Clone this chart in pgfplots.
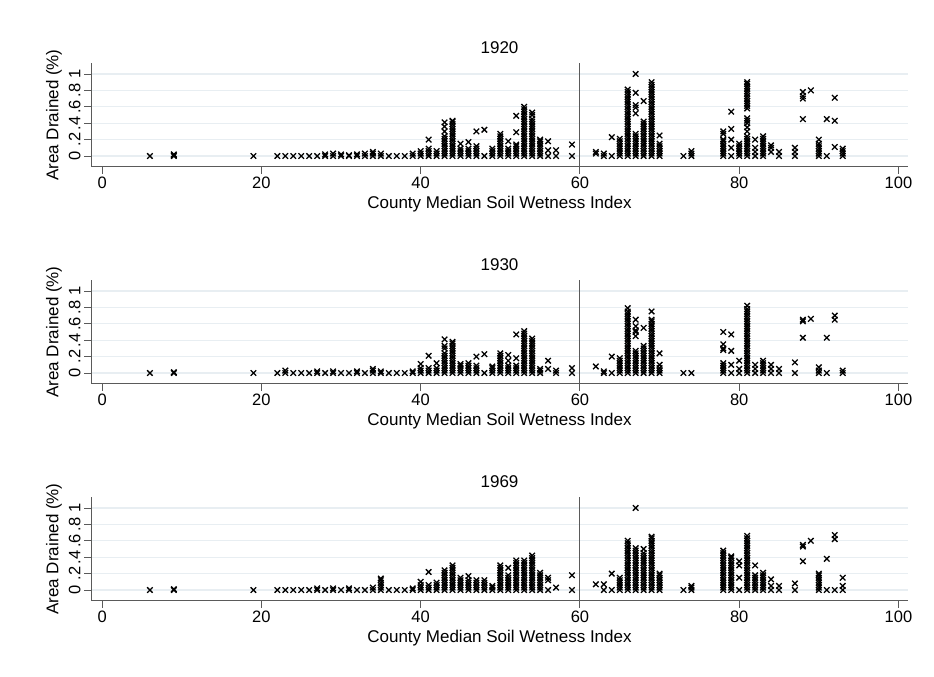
\documentclass[border=0pt]{standalone}
\usepackage{pgfplots}
\pgfplotsset{compat=1.18}
\usepackage{fontspec}
\setmainfont{Liberation Sans}
\definecolor{gridc}{RGB}{232,238,242}
\definecolor{axc}{RGB}{90,90,90}
\pgfplotsset{panel/.style={
  scale only axis, width=817pt, height=103.4pt,
  xmin=-1.4, xmax=101.2, ymin=-0.13, ymax=1.13,
  axis x line*=bottom, axis y line*=left,
  axis line style={draw=axc, line width=0.9pt, -},
  xtick={0,20,40,60,80,100}, ytick={0,0.2,0.4,0.6,0.8,1},
  yticklabels={0,.2,.4,.6,.8,1},
  tick align=outside, major tick length=7pt,
  tick style={draw=axc, line width=0.9pt},
  ymajorgrids, grid style={draw=gridc, line width=1.1pt},
  yticklabel style={rotate=90, anchor=south},
  /pgf/number format/assume math mode=true,
  every tick label/.append style={font=\fontsize{16.5}{18}\selectfont},
  label style={font=\fontsize{17}{20}\selectfont},
  title style={font=\fontsize{17}{20}\selectfont},
  xlabel={County Median Soil Wetness Index},
  ylabel={Area Drained (\%)},
  clip=false,
}, dots/.style={only marks, mark=x, mark size=3.9pt, mark options={black, line width=1.3pt}}}
\begin{document}
\begin{tikzpicture}
\path (0pt,0pt) rectangle (934pt,677pt);
% ---------------- 1920
\begin{axis}[panel, at={(91pt,510.3pt)}, anchor=south west, title={1920}]
\addplot[axc, line width=0.9pt, no marks, forget plot] coordinates {(60,-0.13) (60,1.13)};
\addplot[dots] coordinates {
(6,0)(9,0)(9,.01)(9,.02)(19,0)
(22,0)(23,0)(24,0)(25,0)(26,0)(27,0)(28,0)(28,.02)(29,0)(29,.03)(30,0)(30,.02)(31,0)(31,.01)(32,0)(32,.02)(33,0)(33,.03)(34,0)(34,.03)(34,.05)(35,0)(35,.03)(36,0)(37,0)(38,0)(39,0)(39,.03)
(40,0)(40,.03)(40,.06)
(41,0)(41,.03)(41,.06)(41,.09)(41,.2)
(42,0)(42,.03)(42,.06)
(43,0)(43,.03)(43,.06)(43,.09)(43,.12)(43,.15)(43,.18)(43,.21)(43,.24)(43,.3)(43,.36)(43,.41)
(44,0)(44,.03)(44,.06)(44,.09)(44,.12)(44,.15)(44,.18)(44,.21)(44,.24)(44,.27)(44,.3)(44,.33)(44,.36)(44,.39)(44,.42)(44,.43)
(45,0)(45,.03)(45,.06)(45,.09)(45,.15)
(46,0)(46,.03)(46,.06)(46,.09)(46,.17)
(47,0)(47,.03)(47,.06)(47,.09)(47,.12)(47,.3)
(48,0)(48,.32)
(49,0)(49,.03)(49,.06)(49,.09)
(50,0)(50,.03)(50,.06)(50,.09)(50,.12)(50,.15)(50,.18)(50,.21)(50,.24)(50,.27)
(51,0)(51,.03)(51,.06)(51,.09)(51,.18)
(52,0)(52,.03)(52,.06)(52,.09)(52,.12)(52,.14)(52,.29)(52,.49)
(53,0)(53,.03)(53,.06)(53,.09)(53,.12)(53,.15)(53,.18)(53,.21)(53,.24)(53,.27)(53,.3)(53,.33)(53,.36)(53,.39)(53,.42)(53,.45)(53,.48)(53,.51)(53,.54)(53,.57)(53,.6)
(54,0)(54,.03)(54,.06)(54,.09)(54,.12)(54,.15)(54,.18)(54,.21)(54,.24)(54,.27)(54,.3)(54,.33)(54,.36)(54,.39)(54,.42)(54,.45)(54,.5)(54,.53)
(55,0)(55,.03)(55,.06)(55,.09)(55,.12)(55,.15)(55,.18)(55,.2)
(56,0)(56,.07)(56,.18)
(57,0)(57,.07)
(59,0)(59,.14)
(62,.03)(62,.05)(63,0)(63,.03)(64,0)(64,.23)
(65,0)(65,.03)(65,.06)(65,.09)(65,.12)(65,.15)(65,.18)(65,.21)
(66,0)(66,.03)(66,.06)(66,.09)(66,.12)(66,.15)(66,.18)(66,.21)(66,.24)(66,.27)(66,.3)(66,.33)(66,.36)(66,.39)(66,.42)(66,.45)(66,.48)(66,.51)(66,.54)(66,.57)(66,.6)(66,.63)(66,.66)(66,.69)(66,.72)(66,.75)(66,.78)(66,.81)
(67,0)(67,.03)(67,.06)(67,.09)(67,.12)(67,.15)(67,.18)(67,.21)(67,.24)(67,.27)(67,.52)(67,.59)(67,.62)(67,.77)(67,1)
(68,0)(68,.03)(68,.06)(68,.09)(68,.12)(68,.15)(68,.18)(68,.21)(68,.24)(68,.27)(68,.3)(68,.33)(68,.36)(68,.39)(68,.42)(68,.67)
(69,0)(69,.03)(69,.06)(69,.09)(69,.12)(69,.15)(69,.18)(69,.21)(69,.24)(69,.27)(69,.3)(69,.33)(69,.36)(69,.39)(69,.42)(69,.45)(69,.48)(69,.51)(69,.54)(69,.57)(69,.6)(69,.63)(69,.66)(69,.69)(69,.72)(69,.75)(69,.78)(69,.81)(69,.84)(69,.87)(69,.9)
(70,0)(70,.03)(70,.06)(70,.09)(70,.12)(70,.15)(70,.25)
(73,0)(74,0)(74,.03)(74,.06)
(78,0)(78,.03)(78,.06)(78,.09)(78,.12)(78,.15)(78,.18)(78,.2)(78,.27)(78,.3)
(79,0)(79,.1)(79,.2)(79,.33)(79,.54)
(80,0)(80,.03)(80,.06)(80,.09)(80,.12)(80,.15)
(81,0)(81,.03)(81,.06)(81,.09)(81,.12)(81,.15)(81,.18)(81,.21)(81,.24)(81,.3)(81,.35)(81,.4)(81,.43)(81,.46)(81,.58)(81,.61)(81,.64)(81,.67)(81,.7)(81,.73)(81,.76)(81,.79)(81,.82)(81,.85)(81,.88)(81,.9)
(82,0)(82,.05)(82,.1)(82,.2)
(83,0)(83,.03)(83,.06)(83,.09)(83,.12)(83,.15)(83,.18)(83,.21)(83,.24)
(84,.05)(84,.1)(84,.13)
(85,0)(85,.05)
(87,0)(87,.05)(87,.1)
(88,.45)(88,.7)(88,.73)(88,.78)
(89,.8)
(90,0)(90,.03)(90,.06)(90,.09)(90,.12)(90,.15)(90,.2)
(91,0)(91,.45)
(92,.11)(92,.43)(92,.71)
(93,0)(93,.03)(93,.06)(93,.09)
};
\end{axis}
% ---------------- 1930
\begin{axis}[panel, at={(91pt,293.3pt)}, anchor=south west, title={1930}]
\addplot[axc, line width=0.9pt, no marks, forget plot] coordinates {(60,-0.13) (60,1.13)};
\addplot[dots] coordinates {
(6,0)(9,0)(9,.01)(19,0)
(22,0)(23,0)(23,.03)(24,0)(25,0)(26,0)(27,0)(27,.02)(28,0)(29,0)(29,.02)(30,0)(31,0)(32,0)(32,.02)(33,0)(34,0)(34,.03)(34,.05)(35,0)(35,.02)(36,0)(37,0)(38,0)(39,0)(39,.02)
(40,0)(40,.03)(40,.06)(40,.11)
(41,0)(41,.03)(41,.06)(41,.21)
(42,0)(42,.03)(42,.06)(42,.12)
(43,0)(43,.03)(43,.06)(43,.09)(43,.12)(43,.15)(43,.18)(43,.21)(43,.24)(43,.3)(43,.33)(43,.41)
(44,0)(44,.03)(44,.06)(44,.09)(44,.12)(44,.15)(44,.18)(44,.21)(44,.24)(44,.27)(44,.3)(44,.33)(44,.36)(44,.38)
(45,0)(45,.03)(45,.06)(45,.09)(45,.11)
(46,0)(46,.03)(46,.06)(46,.09)(46,.12)
(47,0)(47,.03)(47,.06)(47,.09)(47,.2)
(48,0)(48,.23)
(49,0)(49,.03)(49,.06)(49,.08)
(50,0)(50,.03)(50,.06)(50,.09)(50,.12)(50,.15)(50,.18)(50,.21)(50,.24)
(51,0)(51,.03)(51,.06)(51,.09)(51,.15)(51,.22)
(52,0)(52,.03)(52,.06)(52,.09)(52,.18)(52,.47)
(53,0)(53,.03)(53,.06)(53,.09)(53,.12)(53,.15)(53,.18)(53,.21)(53,.24)(53,.27)(53,.3)(53,.33)(53,.36)(53,.39)(53,.42)(53,.45)(53,.48)(53,.51)
(54,0)(54,.03)(54,.06)(54,.09)(54,.12)(54,.15)(54,.18)(54,.21)(54,.24)(54,.27)(54,.3)(54,.33)(54,.36)(54,.39)(54,.42)
(55,0)(55,.03)(55,.05)
(56,.05)(56,.15)
(57,0)(57,.03)
(59,0)(59,.06)
(62,.08)(63,0)(63,.02)(64,0)(64,.2)
(65,0)(65,.03)(65,.06)(65,.09)(65,.12)(65,.15)(65,.18)
(66,0)(66,.03)(66,.06)(66,.09)(66,.12)(66,.15)(66,.18)(66,.21)(66,.24)(66,.27)(66,.3)(66,.33)(66,.36)(66,.39)(66,.42)(66,.45)(66,.48)(66,.51)(66,.54)(66,.57)(66,.6)(66,.63)(66,.66)(66,.69)(66,.72)(66,.75)(66,.79)
(67,0)(67,.03)(67,.06)(67,.09)(67,.12)(67,.15)(67,.18)(67,.21)(67,.24)(67,.27)(67,.45)(67,.5)(67,.52)(67,.57)(67,.65)
(68,0)(68,.03)(68,.06)(68,.09)(68,.12)(68,.15)(68,.18)(68,.21)(68,.24)(68,.27)(68,.3)(68,.33)(68,.55)
(69,0)(69,.03)(69,.06)(69,.09)(69,.12)(69,.15)(69,.18)(69,.21)(69,.24)(69,.27)(69,.3)(69,.33)(69,.36)(69,.39)(69,.42)(69,.45)(69,.48)(69,.51)(69,.54)(69,.57)(69,.6)(69,.63)(69,.65)(69,.75)
(70,0)(70,.03)(70,.06)(70,.1)(70,.24)
(73,0)(74,0)
(78,0)(78,.03)(78,.06)(78,.09)(78,.12)(78,.28)(78,.3)(78,.35)(78,.5)
(79,0)(79,.1)(79,.27)(79,.47)
(80,0)(80,.05)(80,.15)
(81,0)(81,.03)(81,.06)(81,.09)(81,.12)(81,.15)(81,.18)(81,.21)(81,.24)(81,.27)(81,.3)(81,.33)(81,.36)(81,.39)(81,.42)(81,.45)(81,.48)(81,.51)(81,.54)(81,.57)(81,.6)(81,.63)(81,.66)(81,.69)(81,.72)(81,.75)(81,.78)(81,.82)
(82,0)(82,.05)(82,.1)
(83,0)(83,.03)(83,.06)(83,.09)(83,.12)(83,.15)
(84,0)(84,.05)(84,.1)
(85,0)(85,.05)
(87,0)(87,.13)
(88,.43)(88,.63)(88,.65)
(89,.66)
(90,0)(90,.03)(90,.07)
(91,0)(91,.43)
(92,.65)(92,.7)
(93,0)(93,.03)
};
\end{axis}
% ---------------- 1969
\begin{axis}[panel, at={(91pt,76.3pt)}, anchor=south west, title={1969}]
\addplot[axc, line width=0.9pt, no marks, forget plot] coordinates {(60,-0.13) (60,1.13)};
\addplot[dots] coordinates {
(6,0)(9,0)(9,.01)(19,0)
(22,0)(23,0)(24,0)(25,0)(26,0)(27,0)(27,.02)(28,0)(29,0)(29,.02)(30,0)(31,0)(31,.02)(32,0)(33,0)(34,0)(34,.03)(35,0)(35,.03)(35,.06)(35,.09)(35,.12)(35,.14)(36,0)(37,0)(38,0)(39,0)(39,.02)
(40,0)(40,.03)(40,.06)(40,.1)
(41,0)(41,.03)(41,.06)(41,.22)
(42,0)(42,.03)(42,.06)(42,.09)
(43,0)(43,.03)(43,.06)(43,.09)(43,.12)(43,.15)(43,.18)(43,.21)(43,.24)
(44,0)(44,.03)(44,.06)(44,.09)(44,.12)(44,.15)(44,.18)(44,.21)(44,.24)(44,.27)(44,.3)
(45,0)(45,.03)(45,.06)(45,.09)(45,.12)(45,.15)
(46,0)(46,.03)(46,.06)(46,.09)(46,.12)(46,.17)
(47,0)(47,.03)(47,.06)(47,.09)(47,.12)
(48,0)(48,.03)(48,.06)(48,.09)(48,.12)
(49,0)(49,.03)(49,.05)
(50,0)(50,.03)(50,.06)(50,.09)(50,.12)(50,.15)(50,.18)(50,.21)(50,.24)(50,.27)(50,.3)
(51,0)(51,.03)(51,.06)(51,.09)(51,.12)(51,.15)(51,.18)(51,.27)
(52,0)(52,.03)(52,.06)(52,.09)(52,.12)(52,.15)(52,.18)(52,.21)(52,.24)(52,.27)(52,.3)(52,.33)(52,.36)
(53,0)(53,.03)(53,.06)(53,.09)(53,.12)(53,.15)(53,.18)(53,.21)(53,.24)(53,.27)(53,.3)(53,.33)(53,.36)
(54,0)(54,.03)(54,.06)(54,.09)(54,.12)(54,.15)(54,.18)(54,.21)(54,.24)(54,.27)(54,.3)(54,.33)(54,.36)(54,.39)(54,.42)
(55,0)(55,.03)(55,.06)(55,.09)(55,.12)(55,.15)(55,.18)(55,.21)
(56,0)(56,.12)(56,.15)
(57,.03)
(59,0)(59,.18)
(62,.07)(63,0)(63,.07)(64,0)(64,.2)
(65,0)(65,.03)(65,.06)(65,.09)(65,.12)(65,.15)
(66,0)(66,.03)(66,.06)(66,.09)(66,.12)(66,.15)(66,.18)(66,.21)(66,.24)(66,.27)(66,.3)(66,.33)(66,.36)(66,.39)(66,.42)(66,.45)(66,.48)(66,.51)(66,.54)(66,.57)(66,.6)
(67,0)(67,.03)(67,.06)(67,.09)(67,.12)(67,.15)(67,.18)(67,.21)(67,.24)(67,.27)(67,.3)(67,.33)(67,.36)(67,.39)(67,.42)(67,.45)(67,.48)(67,.51)(67,1)
(68,0)(68,.03)(68,.06)(68,.09)(68,.12)(68,.15)(68,.18)(68,.21)(68,.24)(68,.27)(68,.3)(68,.33)(68,.36)(68,.39)(68,.42)(68,.45)(68,.5)
(69,0)(69,.03)(69,.06)(69,.09)(69,.12)(69,.15)(69,.18)(69,.21)(69,.24)(69,.27)(69,.3)(69,.33)(69,.36)(69,.39)(69,.42)(69,.45)(69,.48)(69,.51)(69,.54)(69,.57)(69,.6)(69,.63)(69,.65)
(70,0)(70,.03)(70,.06)(70,.09)(70,.12)(70,.15)(70,.18)(70,.2)
(73,0)(74,0)(74,.03)(74,.05)
(78,0)(78,.03)(78,.06)(78,.09)(78,.12)(78,.15)(78,.18)(78,.21)(78,.24)(78,.27)(78,.3)(78,.33)(78,.36)(78,.39)(78,.42)(78,.45)(78,.48)
(79,0)(79,.03)(79,.06)(79,.09)(79,.12)(79,.15)(79,.18)(79,.21)(79,.24)(79,.27)(79,.3)(79,.33)(79,.36)(79,.39)(79,.41)
(80,0)(80,.15)(80,.3)(80,.35)
(81,0)(81,.03)(81,.06)(81,.09)(81,.12)(81,.15)(81,.18)(81,.21)(81,.24)(81,.27)(81,.3)(81,.33)(81,.36)(81,.39)(81,.42)(81,.45)(81,.48)(81,.51)(81,.54)(81,.57)(81,.6)(81,.63)(81,.66)
(82,0)(82,.03)(82,.06)(82,.09)(82,.12)(82,.15)(82,.18)(82,.3)
(83,0)(83,.03)(83,.06)(83,.09)(83,.12)(83,.15)(83,.18)(83,.21)
(84,0)(84,.05)(84,.13)
(85,0)(85,.05)
(87,0)(87,.08)
(88,.35)(88,.53)(88,.55)
(89,.6)
(90,0)(90,.03)(90,.06)(90,.09)(90,.12)(90,.15)(90,.18)(90,.2)
(91,0)(91,.38)
(92,0)(92,.62)(92,.67)
(93,0)(93,.05)(93,.15)
};
\end{axis}
\end{tikzpicture}
\end{document}
